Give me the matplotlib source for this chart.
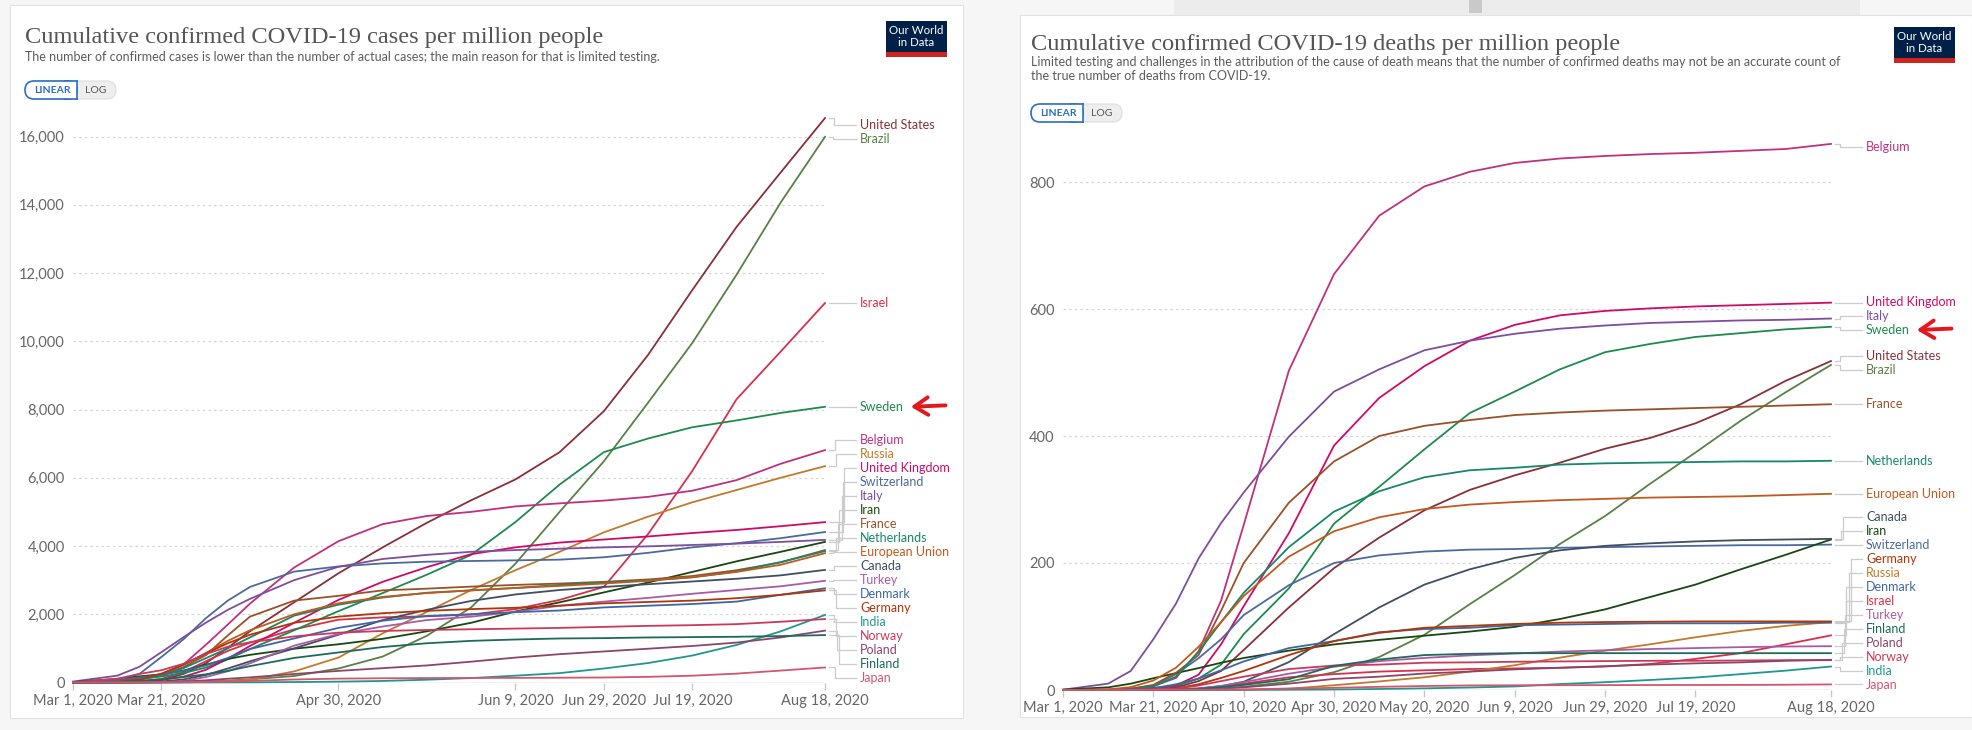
import matplotlib
matplotlib.use('Agg')
import matplotlib.pyplot as plt
from matplotlib.patches import Rectangle, FancyBboxPatch
from matplotlib.text import OffsetFrom
import numpy as np

# --- datos (dias desde 1 mar 2020) ---------------------------------------
days = [0, 10, 15, 20, 25, 30, 35, 40, 50, 60, 70, 80, 90, 100, 110, 120, 130, 140, 150, 160, 170]

countries = ['United States', 'Brazil', 'Israel', 'Sweden', 'Belgium', 'Russia', 'United Kingdom',
             'Switzerland', 'Italy', 'Iran', 'France', 'Netherlands', 'European Union', 'Canada',
             'Turkey', 'Denmark', 'Germany', 'India', 'Norway', 'Poland', 'Finland', 'Japan']

# casos confirmados por millon
cases_united_states = [0, 3, 14, 78, 250, 560, 1020, 1500, 2350, 3200, 3960, 4680, 5340, 5950, 6750, 7950, 9600, 11500, 13350, 14950, 16540]
cases_brazil = [0, 0, 1, 5, 12, 27, 54, 93, 190, 410, 760, 1370, 2200, 3480, 5000, 6480, 8200, 9950, 11950, 14070, 15990]
cases_israel = [0, 9, 29, 102, 311, 619, 926, 1166, 1558, 1841, 1910, 1940, 1990, 2150, 2420, 2800, 4350, 6200, 8300, 9700, 11120]
cases_sweden = [1, 49, 109, 175, 277, 436, 680, 980, 1530, 2090, 2620, 3160, 3740, 4700, 5800, 6750, 7150, 7480, 7680, 7900, 8080]
cases_belgium = [0, 27, 100, 240, 530, 1100, 1700, 2310, 3370, 4140, 4640, 4880, 5000, 5160, 5250, 5330, 5440, 5620, 5930, 6410, 6810]
cases_russia = [0, 0, 1, 2, 5, 16, 40, 80, 325, 730, 1440, 2070, 2710, 3290, 3830, 4400, 4860, 5280, 5640, 6000, 6340]
cases_united_kingdom = [0, 7, 22, 74, 170, 370, 700, 1070, 1750, 2420, 2950, 3380, 3760, 3960, 4100, 4190, 4280, 4380, 4470, 4580, 4700]
cases_switzerland = [3, 75, 250, 750, 1270, 1880, 2400, 2800, 3250, 3400, 3490, 3540, 3560, 3580, 3600, 3670, 3800, 3960, 4080, 4230, 4410]
cases_italy = [28, 200, 460, 890, 1330, 1750, 2130, 2450, 3000, 3390, 3620, 3740, 3830, 3880, 3920, 3960, 3990, 4030, 4070, 4120, 4180]
cases_iran = [12, 107, 180, 240, 350, 520, 690, 810, 990, 1120, 1280, 1500, 1750, 2080, 2350, 2640, 2930, 3240, 3550, 3830, 4120]
cases_france = [2, 30, 100, 220, 450, 800, 1380, 1930, 2400, 2540, 2700, 2750, 2810, 2860, 2900, 2950, 3020, 3120, 3290, 3520, 3880]
cases_netherlands = [0, 30, 80, 200, 420, 710, 1000, 1320, 1960, 2280, 2490, 2630, 2700, 2770, 2860, 2930, 2990, 3080, 3250, 3530, 3850]
cases_european_union = [1, 30, 100, 250, 520, 860, 1220, 1530, 2000, 2320, 2510, 2620, 2700, 2770, 2830, 2900, 2980, 3090, 3240, 3450, 3790]
cases_canada = [0, 3, 11, 30, 90, 220, 410, 620, 1000, 1400, 1830, 2130, 2390, 2580, 2710, 2800, 2880, 2960, 3040, 3140, 3300]
cases_turkey = [0, 0, 0, 8, 45, 160, 330, 560, 1080, 1420, 1640, 1830, 1930, 2070, 2250, 2370, 2480, 2600, 2710, 2820, 2980]
cases_denmark = [1, 89, 150, 230, 340, 500, 720, 980, 1290, 1600, 1810, 1950, 2000, 2060, 2110, 2200, 2250, 2300, 2370, 2570, 2760]
cases_germany = [2, 20, 87, 260, 520, 850, 1150, 1400, 1750, 1930, 2030, 2100, 2150, 2190, 2250, 2320, 2360, 2400, 2470, 2570, 2700]
cases_india = [0, 0, 0, 0, 0, 1, 3, 5, 13, 25, 45, 82, 130, 200, 275, 410, 570, 790, 1100, 1500, 1980]
cases_norway = [3, 110, 250, 360, 550, 830, 1050, 1180, 1350, 1460, 1510, 1540, 1560, 1580, 1600, 1630, 1660, 1680, 1710, 1780, 1860]
cases_poland = [0, 1, 4, 11, 30, 63, 110, 150, 250, 340, 420, 500, 610, 730, 830, 910, 990, 1070, 1170, 1320, 1520]
cases_finland = [1, 11, 50, 95, 160, 240, 340, 480, 720, 880, 1040, 1150, 1220, 1260, 1290, 1300, 1320, 1330, 1340, 1360, 1390]
cases_japan = [2, 5, 6, 8, 11, 15, 28, 45, 88, 114, 124, 130, 133, 136, 140, 147, 165, 200, 260, 350, 440]

# muertes confirmadas por millon
deaths_united_states = [0, 0.1, 0.3, 1, 4, 14, 30, 63, 130, 192, 240, 283, 315, 338, 358, 380, 397, 420, 450, 487, 518]
deaths_brazil = [0, 0, 0, 0, 0.4, 1, 2.5, 5, 13, 28, 52, 87, 135, 181, 230, 274, 325, 374, 424, 469, 512]
deaths_israel = [0, 0, 0, 0, 0.1, 1.8, 5.5, 10, 20, 25, 29, 31, 33, 34, 35, 37, 41, 49, 58, 72, 86]
deaths_sweden = [0, 0, 0.1, 2, 6, 18, 40, 88, 160, 262, 320, 379, 436, 470, 505, 532, 545, 556, 562, 568, 572]
deaths_belgium = [0, 0, 0.4, 6, 19, 61, 141, 260, 503, 655, 747, 793, 816, 830, 837, 841, 844, 846, 849, 852, 860]
deaths_russia = [0, 0, 0, 0, 0, 0.1, 0.3, 0.5, 2, 7.5, 13.5, 20, 29, 39, 51, 62, 72, 83, 93, 101, 107]
deaths_united_kingdom = [0, 0.1, 0.8, 3.5, 7, 24, 72, 132, 247, 385, 460, 510, 550, 575, 590, 597, 601, 604, 606, 608, 610]
deaths_switzerland = [0, 0.5, 2, 7, 25, 50, 80, 118, 165, 200, 212, 218, 221, 222, 224, 225, 226, 227, 228, 228, 229]
deaths_italy = [0.5, 10, 30, 80, 136, 207, 263, 311, 399, 470, 505, 535, 550, 561, 569, 574, 578, 580, 582, 583, 585]
deaths_iran = [0.6, 4.2, 10, 18.5, 26.6, 34.5, 42.9, 50.4, 62, 71.8, 79, 85.5, 92, 99.4, 111.8, 127, 146.5, 166, 190, 213, 237]
deaths_france = [0, 0.5, 2, 8, 27, 55, 125, 200, 295, 360, 400, 416, 425, 433, 437, 440, 442, 444, 446, 448, 450]
deaths_netherlands = [0, 0, 1.2, 6, 21, 60, 107, 153, 225, 281, 313, 335, 346, 350, 355, 357, 358, 359, 360, 360, 361]
deaths_european_union = [0, 1, 4.5, 15, 35, 68, 107, 148, 210, 250, 272, 285, 292, 296, 299, 301, 303, 304, 305, 307, 309]
deaths_canada = [0, 0, 0.1, 0.4, 1, 2.4, 6, 13, 44, 88, 130, 166, 190, 208, 220, 227, 231, 234, 236, 237, 238]
deaths_turkey = [0, 0, 0, 0.4, 0.9, 2.5, 6.5, 12.4, 25.7, 36.5, 45.5, 50.5, 54.5, 57.5, 60.5, 62.5, 64.5, 66, 67.5, 68.5, 69]
deaths_denmark = [0, 0, 0.7, 2.6, 9, 18, 31, 45, 66, 77, 91, 96, 98, 102, 103, 104, 105, 105, 105, 106, 106]
deaths_germany = [0, 0, 0.1, 1, 2.5, 9, 19, 30, 55, 77, 90, 98, 101, 104, 106, 107, 107.5, 108, 108, 108, 108]
deaths_india = [0, 0, 0, 0, 0, 0, 0.1, 0.2, 0.4, 0.8, 1.6, 2.6, 3.9, 5.6, 9.4, 12.3, 15.8, 19.6, 25, 30.5, 37]
deaths_norway = [0, 0, 0.2, 1.3, 2, 7, 14, 21, 33, 38.5, 40, 43, 43.5, 44.5, 45, 45.5, 46, 46, 46.5, 47, 47]
deaths_poland = [0, 0, 0, 0.1, 0.2, 0.8, 2.4, 4.2, 10, 17.5, 21, 26, 29, 32.5, 35, 37.5, 40, 42, 43.5, 46, 47.5]
deaths_finland = [0, 0, 0, 0, 0.2, 1.8, 4.5, 8, 17, 38, 48, 55, 57, 58, 58, 58, 58, 58, 58, 58, 58]
deaths_japan = [0, 0, 0.1, 0.3, 0.4, 0.5, 0.7, 0.9, 2.3, 3.4, 5, 6.3, 7.2, 7.4, 7.6, 7.7, 7.8, 7.9, 8.0, 8.3, 8.8]

cases_xticks = [0, 20, 60, 100, 120, 140, 170]
cases_xlabels = ['Mar 1, 2020', 'Mar 21, 2020', 'Apr 30, 2020', 'Jun 9, 2020', 'Jun 29, 2020',
                 'Jul 19, 2020', 'Aug 18, 2020']
deaths_xticks = [0, 20, 40, 60, 80, 100, 120, 140, 170]
deaths_xlabels = ['Mar 1, 2020', 'Mar 21, 2020', 'Apr 10, 2020', 'Apr 30, 2020', 'May 20, 2020',
                  'Jun 9, 2020', 'Jun 29, 2020', 'Jul 19, 2020', 'Aug 18, 2020']
cases_yticks = [0, 2000, 4000, 6000, 8000, 10000, 12000, 14000, 16000]
deaths_yticks = [0, 200, 400, 600, 800]

cases = dict(zip(countries, [
    cases_united_states, cases_brazil, cases_israel, cases_sweden, cases_belgium, cases_russia,
    cases_united_kingdom, cases_switzerland, cases_italy, cases_iran, cases_france,
    cases_netherlands, cases_european_union, cases_canada, cases_turkey, cases_denmark,
    cases_germany, cases_india, cases_norway, cases_poland, cases_finland, cases_japan]))
deaths = dict(zip(countries, [
    deaths_united_states, deaths_brazil, deaths_israel, deaths_sweden, deaths_belgium, deaths_russia,
    deaths_united_kingdom, deaths_switzerland, deaths_italy, deaths_iran, deaths_france,
    deaths_netherlands, deaths_european_union, deaths_canada, deaths_turkey, deaths_denmark,
    deaths_germany, deaths_india, deaths_norway, deaths_poland, deaths_finland, deaths_japan]))

colores = {
    'United States': '#883039', 'Brazil': '#578145', 'Israel': '#D6304B', 'Sweden': '#1D8A4E',
    'Belgium': '#C0317D', 'Russia': '#C17A2C', 'United Kingdom': '#CF0A66', 'Switzerland': '#4C6A9C',
    'Italy': '#7D4E9E', 'Iran': '#18470F', 'France': '#9A5129', 'Netherlands': '#17876A',
    'European Union': '#C25A1D', 'Canada': '#404D63', 'Turkey': '#A95BA8', 'Denmark': '#3E66A3',
    'Germany': '#B13507', 'India': '#1F978F', 'Norway': '#C93A5A', 'Poland': '#8C4569',
    'Finland': '#1C6B59', 'Japan': '#D4566E',
}

# --- figura ---------------------------------------------------------------
W, H = 1972, 730
plt.rcParams['font.family'] = ['Lato', 'DejaVu Sans']
fig = plt.figure(figsize=(W / 100, H / 100), dpi=100, facecolor='#f6f6f6')

# ejes de fondo en pixeles (y hacia abajo) para tarjetas, textos y etiquetas
bg = fig.add_axes([0, 0, 1, 1])
bg.set_xlim(0, W)
bg.set_ylim(H, 0)
bg.set_axis_off()

bg.add_patch(Rectangle((10, 5), 953, 713, facecolor='white', edgecolor='#e2e2e2', lw=0.8))
bg.add_patch(Rectangle((1020, 15), 952, 702, facecolor='white', edgecolor='#e2e2e2', lw=0.8))
bg.add_patch(Rectangle((1174, 0), 686, 15, facecolor='#ececec', lw=0))
bg.add_patch(Rectangle((1469, 0), 13, 13, facecolor='#c9c9c9', lw=0))

serif = ['Liberation Serif', 'DejaVu Serif']
sans = ['Lato', 'DejaVu Sans']


def cabecera(x, y_title, title, lines, y_sub, y_btn, logo_x, logo_y):
    bg.text(x, y_title, title, fontsize=17.6, family=serif, color='#555555', va='baseline')
    for k, line in enumerate(lines):
        bg.text(x, y_sub + 14 * k, line, fontsize=9.0, family=sans, color='#5b5b5b', va='baseline')
    # botones LINEAR / LOG
    bg.add_patch(FancyBboxPatch((x + 3, y_btn), 88, 18, boxstyle='round,pad=0,rounding_size=9',
                                facecolor='#eeeeee', edgecolor='#dddddd', lw=0.8))
    bg.add_patch(FancyBboxPatch((x, y_btn), 52, 18, boxstyle='round,pad=0,rounding_size=9',
                                facecolor='white', edgecolor='#2a6fc2', lw=1.2))
    bg.add_patch(Rectangle((x + 40, y_btn), 12, 18, facecolor='white', edgecolor='none'))
    bg.plot([x + 52, x + 52], [y_btn, y_btn + 18], color='#2a6fc2', lw=1.2)
    bg.plot([x + 40, x + 52], [y_btn, y_btn], color='#2a6fc2', lw=1.2)
    bg.plot([x + 40, x + 52], [y_btn + 18, y_btn + 18], color='#2a6fc2', lw=1.2)
    bg.text(x + 27, y_btn + 9.5, 'LINEAR', fontsize=7.5, color='#2a6fc2', ha='center', va='center',
            fontweight='bold')
    bg.text(x + 71, y_btn + 9.5, 'LOG', fontsize=7.5, color='#555555', ha='center', va='center')
    # logo
    bg.add_patch(Rectangle((logo_x, logo_y), 61, 31, facecolor='#002147', lw=0))
    bg.add_patch(Rectangle((logo_x, logo_y + 31), 61, 5, facecolor='#ce261e', lw=0))
    bg.text(logo_x + 30.5, logo_y + 15.5, 'Our World\nin Data', fontsize=8.3, family=sans,
            color='white', ha='center', va='center', linespacing=1.0)


cabecera(25, 43, 'Cumulative confirmed COVID-19 cases per million people',
         ['The number of confirmed cases is lower than the number of actual cases; '
          'the main reason for that is limited testing.'], 61, 81, 886, 21)
cabecera(1031, 50, 'Cumulative confirmed COVID-19 deaths per million people',
         ['Limited testing and challenges in the attribution of the cause of death means that the '
          'number of confirmed deaths may not be an accurate count of',
          'the true number of deaths from COVID-19.'], 66, 104, 1894, 27)


def repartir(desired, gap, lo, hi):
    """Separa etiquetas (pixeles desde arriba) en grupos sin solaparse."""
    order = list(np.argsort(desired, kind='stable'))
    clusters = [[i] for i in order]

    def start(c):
        s = np.mean([desired[i] for i in c]) - (len(c) - 1) * gap / 2
        s = max(s, lo)
        return min(s, hi - (len(c) - 1) * gap)

    merged = True
    while merged:
        merged = False
        for k in range(len(clusters) - 1):
            a, b = clusters[k], clusters[k + 1]
            if start(a) + len(a) * gap > start(b) + 0.01:
                clusters[k] = a + b
                del clusters[k + 1]
                merged = True
                break
    pos = {}
    for c in clusters:
        s = start(c)
        for j, i in enumerate(c):
            pos[i] = s + j * gap
    return pos


def panel(rect, data, ymax, yticks, xticks, xlabels):
    ax = fig.add_axes(rect)
    ax.set_facecolor('none')
    ax.set_xlim(0, 170)
    ax.set_ylim(0, ymax)
    for s in ax.spines.values():
        s.set_visible(False)
    ax.set_yticks(yticks)
    ax.set_yticklabels([f'{v:,}' for v in yticks])
    ax.set_xticks(xticks)
    ax.set_xticklabels(xlabels)
    ax.tick_params(axis='y', length=0, pad=6, labelsize=10.5, labelcolor='#666666')
    ax.tick_params(axis='x', length=5, width=1, color='#c8c8c8', pad=3, labelsize=10.5,
                   labelcolor='#666666')
    for v in yticks[1:]:
        ax.axhline(v, color='#d6d6d6', lw=0.9, ls=(0, (2, 2.5)), zorder=0)
    ax.axhline(0, color='#c8c8c8', lw=1, zorder=1)

    for name in countries:
        ax.plot(days, data[name], color=colores[name], lw=1.3, clip_on=False, zorder=3,
                solid_joinstyle='round')

    # etiquetas a la derecha con conectores
    ends = [data[name][-1] for name in countries]
    pts = ax.transData.transform([(days[-1], v) for v in ends])
    x_end = pts[0][0]
    desired = [H - p[1] for p in pts]
    y_top = H - ax.transData.transform((0, ymax))[1]
    y_bot = H - ax.transData.transform((0, 0))[1]
    pos = repartir(desired, 14, y_top + 16, y_bot - 5)
    xl = x_end + 35
    textos = {}
    for i, name in enumerate(countries):
        yd, yl = desired[i], pos[i]
        if abs(yl - yd) < 1:
            bg.plot([x_end + 4, xl - 4], [yd, yd], color='#cccccc', lw=0.9)
        else:
            xm = x_end + 8 + min(abs(yl - yd), 80) / 80 * 16
            bg.plot([x_end + 4, xm, xm, xl - 4], [yd, yd, yl, yl], color='#cccccc', lw=0.9)
        textos[name] = bg.text(xl, yl, name, fontsize=9, color=colores[name], va='center')
    return ax, textos


# cases: x 73..825 px, 0 a 682.5 px, 2000 por 68.25 px
ax1, t1 = panel([73 / W, 1 - 682.5 / H, 752 / W, 573.3 / H], cases, 16800, cases_yticks,
                cases_xticks, cases_xlabels)
# deaths: x 1063..1831 px, 0 a 690 px, 200 por 127 px
ax2, t2 = panel([1063 / W, 1 - 690 / H, 768 / W, 558.8 / H], deaths, 880, deaths_yticks,
                deaths_xticks, deaths_xlabels)

# flechas rojas dibujadas a mano hacia Sweden
for t in (t1['Sweden'], t2['Sweden']):
    bg.annotate('', xy=(5, 0), xycoords=OffsetFrom(t, (1, 0.5)),
                xytext=(30, 1), textcoords=OffsetFrom(t, (1, 0.5)),
                arrowprops=dict(arrowstyle='->,head_length=0.7,head_width=0.45', color='#e3171c',
                                lw=2.8, mutation_scale=14, shrinkA=0, shrinkB=0))

plt.savefig('out.png', dpi=100, facecolor=fig.get_facecolor())
